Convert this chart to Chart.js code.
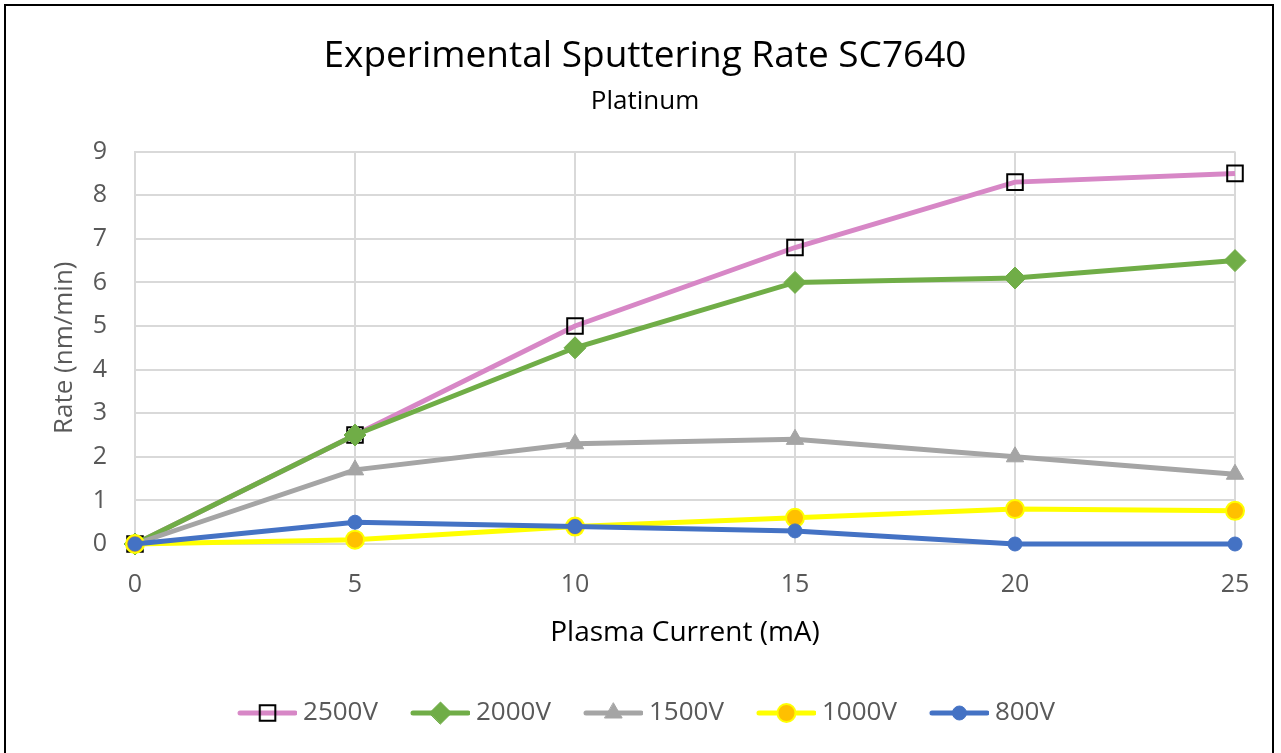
<!DOCTYPE html>
<html>
<head>
<meta charset="utf-8">
<script src="https://cdn.jsdelivr.net/npm/chart.js@4.4.0/dist/chart.umd.min.js"></script>
<style>
  html, body { margin: 0; padding: 0; background: #fff; overflow: hidden; }
  #wrap { position: relative; width: 1281px; height: 753px; }
  #frame {
    position: absolute; left: 4px; top: 4px; width: 1270px; height: 760px;
    border: 2px solid #000; box-sizing: border-box; pointer-events: none;
  }
</style>
</head>
<body>
<div id="wrap">
  <canvas id="chart" width="1281" height="753"></canvas>
  <div id="frame"></div>
</div>
<script>
// Plasma current (mA)
const currents = [0, 5, 10, 15, 20, 25];

// Rate (nm/min) per voltage
const rate2500 = [0, 2.5, 5.0, 6.8, 8.3, 8.5];
const rate2000 = [0, 2.5, 4.5, 6.0, 6.1, 6.5];
const rate1500 = [0, 1.7, 2.3, 2.4, 2.0, 1.6];
const rate1000 = [0, 0.1, 0.4, 0.6, 0.8, 0.76];
const rate800 = [0, 0.5, 0.4, 0.3, 0, 0];

const seriesNames = ['2500V', '2000V', '1500V', '1000V', '800V'];

const FONT = "'Open Sans', sans-serif";
const TEXT_GRAY = '#595959';
const GRID = '#d9d9d9';

const toPoints = (vals) => vals.map((v, i) => ({ x: currents[i], y: v }));

// Legend swatch: line with the marker in the middle, drawn to an offscreen canvas
function makeSwatch(s) {
  const c = document.createElement('canvas');
  c.width = 69;
  c.height = 30;
  const ctx = c.getContext('2d');
  ctx.strokeStyle = s.line;
  ctx.lineWidth = 5;
  ctx.lineCap = 'round';
  ctx.beginPath();
  ctx.moveTo(12, 15);
  ctx.lineTo(67, 15);
  ctx.stroke();
  ctx.fillStyle = s.fill;
  ctx.strokeStyle = s.stroke;
  ctx.lineWidth = s.bw;
  Chart.helpers.drawPoint(ctx, {
    pointStyle: s.style, rotation: 0, radius: s.r, borderWidth: s.bw
  }, 39.5, 15);
  return c;
}

const styles = [
  { line: '#d787c6', style: 'rect', fill: 'rgba(0,0,0,0)', stroke: '#000000', r: 11, bw: 2 },
  { line: '#70ad47', style: 'rectRot', fill: '#70ad47', stroke: '#70ad47', r: 11, bw: 1 },
  { line: '#a5a5a5', style: 'triangle', fill: '#a5a5a5', stroke: '#a5a5a5', r: 10, bw: 1 },
  { line: '#ffff00', style: 'circle', fill: '#ffc000', stroke: '#ffff00', r: 9, bw: 2 },
  { line: '#4472c4', style: 'circle', fill: '#4472c4', stroke: '#4472c4', r: 7, bw: 1 }
];

const allRates = [rate2500, rate2000, rate1500, rate1000, rate800];

const datasets = allRates.map((vals, i) => {
  const s = styles[i];
  return {
    label: seriesNames[i],
    data: toPoints(vals),
    borderColor: s.line,
    borderWidth: 5,
    pointStyle: s.style,
    pointRadius: s.r,
    pointHoverRadius: s.r,
    pointBackgroundColor: s.fill,
    pointBorderColor: s.stroke,
    pointBorderWidth: s.bw,
    tension: 0,
    clip: false,
    order: allRates.length - i // later series drawn on top, like Excel
  };
});

const ctx = document.getElementById('chart').getContext('2d');
new Chart(ctx, {
  type: 'line',
  data: { datasets },
  options: {
    responsive: false,
    animation: false,
    layout: { padding: { left: 55, right: 46, top: 0, bottom: 17 } },
    plugins: {
      title: {
        display: true,
        text: 'Experimental Sputtering Rate SC7640',
        color: '#000',
        font: { family: FONT, size: 37, weight: 'normal' },
        padding: { top: 34, bottom: 8 }
      },
      subtitle: {
        display: true,
        text: 'Platinum',
        color: '#000',
        font: { family: FONT, size: 26, weight: 'normal' },
        padding: { top: 0, bottom: 34 }
      },
      legend: {
        position: 'bottom',
        labels: {
          usePointStyle: true,
          pointStyleWidth: 55,
          padding: 30,
          color: TEXT_GRAY,
          font: { family: FONT, size: 26 },
          sort: (a, b) => a.datasetIndex - b.datasetIndex,
          generateLabels: (chart) => chart.data.datasets.map((ds, i) => ({
            text: ds.label,
            datasetIndex: i,
            pointStyle: makeSwatch(styles[i]),
            fontColor: TEXT_GRAY,
            hidden: false,
            lineWidth: 0,
            strokeStyle: 'rgba(0,0,0,0)',
            fillStyle: 'rgba(0,0,0,0)'
          }))
        }
      },
      tooltip: { enabled: false }
    },
    scales: {
      x: {
        type: 'linear',
        min: 0,
        max: 25,
        afterFit: (s) => { s.height = 126; },
        ticks: { stepSize: 5, color: TEXT_GRAY, padding: 26, font: { family: FONT, size: 25 } },
        grid: { color: GRID, lineWidth: 2, drawTicks: false },
        border: { color: GRID, width: 2 },
        title: {
          display: true,
          text: 'Plasma Current (mA)',
          color: '#000',
          font: { family: FONT, size: 28 },
          padding: { top: 0, bottom: 20 }
        }
      },
      y: {
        min: 0,
        max: 9,
        afterFit: (s) => { s.width = 80; },
        ticks: { stepSize: 1, color: TEXT_GRAY, padding: 28, font: { family: FONT, size: 25 } },
        grid: { color: GRID, lineWidth: 2, drawTicks: false },
        border: { color: GRID, width: 2 },
        title: {
          display: true,
          text: 'Rate (nm/min)',
          color: TEXT_GRAY,
          font: { family: FONT, size: 26 },
          padding: { top: -6, bottom: 0 }
        }
      }
    }
  }
});
</script>
</body>
</html>
